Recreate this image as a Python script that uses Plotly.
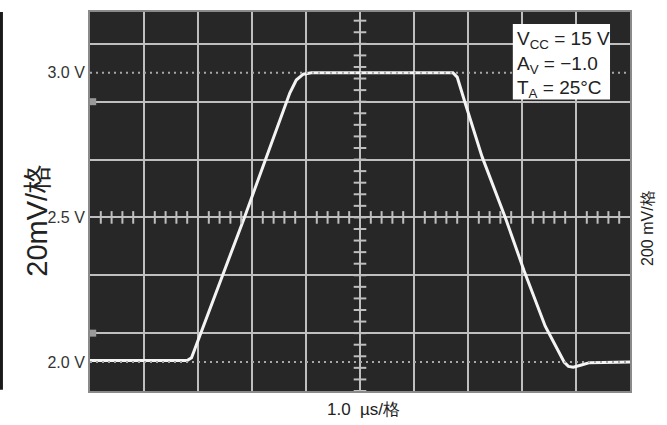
import plotly.graph_objects as go

# waveform (time in µs relative to screen centre, voltage in V)
t_us = [-5.0, -3.2, -3.12, -2.14, -1.3, -1.18, -1.05, -0.9, 1.72, 1.80, 1.94,
        2.26, 2.69, 3.04, 3.43, 3.78, 3.86, 3.95, 4.1, 4.25, 5.0]
volts = [2.005, 2.005, 2.015, 2.5, 2.93, 2.975, 2.995, 3.0, 3.0, 2.985, 2.90,
         2.71, 2.5, 2.315, 2.124, 2.0, 1.985, 1.982, 1.99, 1.998, 2.0]

y_tick_vals = [2.0, 2.5, 3.0]
y_tick_text = ["2.0 V", "2.5 V", "3.0 V"]
ref_levels = [2.0, 3.0]
cursor_levels = [2.1, 2.9]

x_range = [-5, 5]
y_range = [1.9, 3.21]

# graticule minor marks on the centre lines
h_marks = [round(-5 + 0.2 * i, 2) for i in range(51) if i % 5 != 0]
v_marks = [round(1.9 + 0.04 * i, 2) for i in range(33)]

GRID = "#bfbfbf"
BG = "#272727"
FONT = "Liberation Sans Narrow, Arial Narrow, Liberation Sans, Arial, sans-serif"

fig = go.Figure()

fig.add_trace(go.Scatter(x=h_marks, y=[2.5] * len(h_marks), mode="markers",
                         marker=dict(symbol="line-ns", size=9, line=dict(width=2, color=GRID)),
                         yaxis="y2", hoverinfo="skip", showlegend=False))
fig.add_trace(go.Scatter(x=[0] * len(v_marks), y=v_marks, mode="markers",
                         marker=dict(symbol="line-ew", size=9, line=dict(width=2, color=GRID)),
                         yaxis="y2", hoverinfo="skip", showlegend=False))

for lv in ref_levels:
    fig.add_trace(go.Scatter(x=x_range, y=[lv, lv], mode="lines",
                             line=dict(color="#a8a8a8", width=2, dash="2px,4px"),
                             yaxis="y2", hoverinfo="skip", showlegend=False))

fig.add_trace(go.Scatter(x=[-4.95] * len(cursor_levels), y=cursor_levels, mode="markers",
                         marker=dict(symbol="square", size=7, color="#9a9a9a"),
                         yaxis="y2", hoverinfo="skip", showlegend=False))

fig.add_trace(go.Scatter(x=t_us, y=volts, mode="lines",
                         line=dict(color="#f4f4f4", width=3),
                         hoverinfo="skip", showlegend=False))

fig.update_layout(
    width=667, height=425,
    margin=dict(l=90, r=37, t=10, b=34),
    paper_bgcolor="white", plot_bgcolor=BG,
    font=dict(family=FONT, color="#333333"),
    xaxis=dict(range=x_range, tick0=0, dtick=1, showgrid=True, gridcolor=GRID, gridwidth=2,
               showticklabels=False, ticks="", zeroline=False,
               showline=True, mirror=True, linecolor="#8a8a8a", linewidth=2),
    yaxis=dict(range=y_range, tickvals=y_tick_vals, ticktext=y_tick_text, showgrid=False,
               ticks="", ticklen=0, zeroline=False, tickfont=dict(size=16, color="#333333"),
               showline=True, mirror=True, linecolor="#8a8a8a", linewidth=2),
    yaxis2=dict(range=y_range, overlaying="y", side="left", tick0=2.5, dtick=0.2,
                showgrid=True, gridcolor=GRID, gridwidth=2, showticklabels=False,
                ticks="", zeroline=False),
    shapes=[
        dict(type="rect", xref="paper", yref="paper", x0=0.783, x1=0.963, y0=0.769, y1=0.9685,
             fillcolor="white", line=dict(width=0), layer="above"),
        dict(type="line", xref="paper", yref="paper", x0=-0.164, x1=-0.164, y0=0.003, y1=1.0,
             line=dict(color="#1a1a1a", width=3)),
    ],
    annotations=[
        dict(text="V<sub>CC</sub> = 15 V<br>A<sub>V</sub> = −1.0<br>T<sub>A</sub> = 25°C",
             xref="paper", yref="paper", x=0.787, y=0.962, xanchor="left", yanchor="top",
             align="left", showarrow=False, font=dict(size=19, color="#222222")),
        dict(text="20mV/格", xref="paper", yref="paper", x=-0.131, y=0.45,
             textangle=-90, showarrow=False, font=dict(size=29, color="#222222")),
        dict(text="200 mV/格", xref="paper", yref="paper", x=1.012, y=0.43,
             xanchor="left", textangle=-90, showarrow=False, font=dict(size=16, color="#222222")),
        dict(text="1.0  µs/格", xref="paper", yref="paper", x=0.507, y=-0.018,
             yanchor="top", showarrow=False, font=dict(size=17, color="#222222")),
    ],
)

fig.write_html("out.html", config={"displayModeBar": False},
               post_script="document.body.style.margin='0px';document.body.style.padding='0px';")
